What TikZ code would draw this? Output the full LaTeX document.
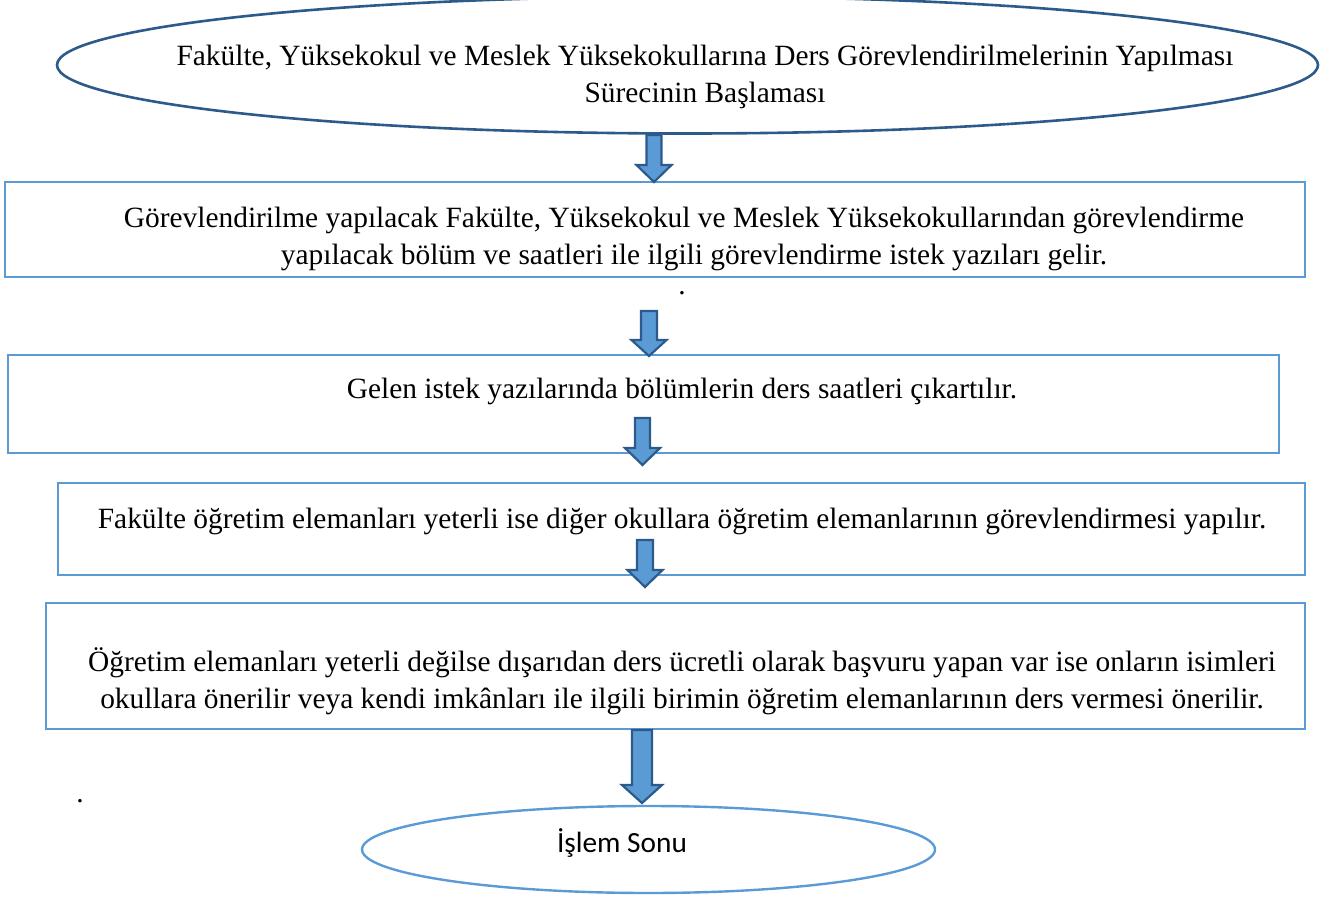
\documentclass[tikz,border=0pt]{standalone}
\usepackage{fontspec}
\setmainfont{Liberation Serif}
\newfontfamily\labelsans{Carlito}
\usetikzlibrary{calc,shapes.geometric}

\definecolor{boxblue}{HTML}{5B9BD5}
\definecolor{edgeblue}{HTML}{2C5A8A}
\definecolor{arrowfill}{HTML}{5B9BD5}

% block arrow from #1 down to #2: shaft half width #3, head half width #4, head length #5
\newcommand\blockarrow[5]{%
  \draw[arrowbody] let \p1=(#1), \p2=(#2) in
    (\x1-#3pt,\y1) -- (\x1+#3pt,\y1) -- (\x1+#3pt,\y2+#5pt) -- (\x1+#4pt,\y2+#5pt)
    -- (\x1,\y2) -- (\x1-#4pt,\y2+#5pt) -- (\x1-#3pt,\y2+#5pt) -- cycle;}

\begin{document}
\begin{tikzpicture}[x=1pt,y=-1pt,
  stepbox/.style={draw=boxblue, line width=2.6pt, inner sep=0pt},
  startoval/.style={draw=edgeblue, line width=2.6pt, ellipse, inner sep=0pt},
  endoval/.style={draw=boxblue, line width=2.4pt, ellipse, inner sep=0pt},
  bodytext/.style={align=center, font=\fontsize{29.4}{37}\selectfont},
  arrowbody/.style={fill=arrowfill, draw=edgeblue, line width=2.2pt, line join=miter}]
\useasboundingbox (0,0) rectangle (1331,899);

% start oval
\node[startoval, minimum width=1261pt, minimum height=137pt] (start) at (687.5,65) {};
\node[bodytext] (starttext) at (705,77)
  {Fakülte, Yüksekokul ve Meslek Yüksekokullarına Ders Görevlendirilmelerinin Yapılması\\
   Sürecinin Başlaması};

% process steps
\node[stepbox, minimum width=1300pt, minimum height=95pt] (s1) at (655,229.5) {};
\node[bodytext] (s1text) at (684,238.5)
  {Görevlendirilme yapılacak Fakülte, Yüksekokul ve Meslek Yüksekokullarından görevlendirme\\
   \hspace*{20pt}yapılacak bölüm ve saatleri ile ilgili görevlendirme istek yazıları gelir.};
\node[font=\fontsize{29.4}{37}\selectfont, inner sep=0pt] (dot1) at (682,293) {.};

\node[stepbox, minimum width=1271pt, minimum height=98pt] (s2) at (643.5,404) {};
\node[bodytext] (s2text) at (682,391) {Gelen istek yazılarında bölümlerin ders saatleri çıkartılır.};

\node[stepbox, minimum width=1247pt, minimum height=92pt] (s3) at (681.5,529) {};
\node[bodytext] (s3text) at (682,521)
  {Fakülte öğretim elemanları yeterli ise diğer okullara öğretim elemanlarının görevlendirmesi yapılır.};

\node[stepbox, minimum width=1259pt, minimum height=126pt] (s4) at (675.5,666) {};
\node[bodytext] (s4text) at (682,681)
  {Öğretim elemanları yeterli değilse dışarıdan ders ücretli olarak başvuru yapan var ise onların isimleri\\
   okullara önerilir veya kendi imkânları ile ilgili birimin öğretim elemanlarının ders vermesi önerilir.};

\node[font=\fontsize{29.4}{37}\selectfont, inner sep=0pt] (dot2) at (80,801) {.};

% end oval
\node[endoval, minimum width=573pt, minimum height=87pt] (finish) at (648.5,849.5) {};
\node[font=\labelsans\fontsize{29.3}{34}\selectfont] (finishtext) at (622,843) {İşlem Sonu};

% arrow ends
\coordinate (a1top) at (654,135);   \coordinate (a1tip) at (654,182);
\coordinate (a2top) at (649,311);   \coordinate (a2tip) at (649,356);
\coordinate (a3top) at (642.5,418); \coordinate (a3tip) at (642.5,465);
\coordinate (a4top) at (645,540);   \coordinate (a4tip) at (645,587);
\coordinate (a5top) at (642,730);   \coordinate (a5tip) at (642,803);

\blockarrow{a1top}{a1tip}{7.5}{17.5}{17}
\blockarrow{a2top}{a2tip}{8}{17.5}{16}
\blockarrow{a3top}{a3tip}{7.5}{17.5}{17}
\blockarrow{a4top}{a4tip}{8}{17.5}{17}
\blockarrow{a5top}{a5tip}{10}{20}{18}
\end{tikzpicture}
\end{document}
